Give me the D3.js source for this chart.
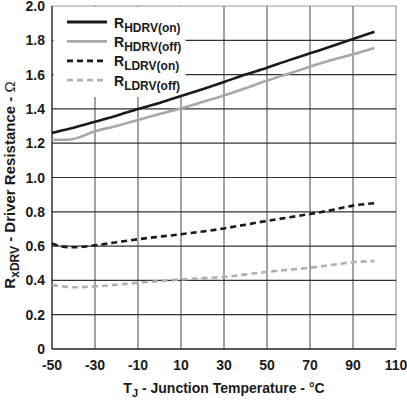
<!DOCTYPE html>
<html>
<head>
<meta charset="utf-8">
<script src="https://cdn.jsdelivr.net/npm/d3@7"></script>
<style>
  body { margin: 0; background: #fff; }
  text { font-family: "Liberation Sans", Arial, sans-serif; font-weight: bold; fill: #1a1a1a; }
</style>
</head>
<body>
<div id="chart"></div>
<script>
// Driver resistance vs junction temperature ////////////////////////////////

var temps = [-50, -45, -40, -30, -20, -10, 0, 10, 20, 30, 40, 50, 60, 70, 80, 90, 100];

var hdrvOn  = [1.26, 1.275, 1.29, 1.325, 1.36, 1.40, 1.435, 1.475, 1.515, 1.557, 1.60, 1.64, 1.683, 1.724, 1.765, 1.807, 1.85];
var hdrvOff = [1.22, 1.22, 1.225, 1.27, 1.30, 1.335, 1.37, 1.403, 1.44, 1.478, 1.52, 1.565, 1.605, 1.646, 1.685, 1.718, 1.755];
var ldrvOn  = [0.615, 0.597, 0.593, 0.605, 0.622, 0.64, 0.655, 0.669, 0.685, 0.703, 0.725, 0.747, 0.767, 0.787, 0.81, 0.836, 0.85];
var ldrvOff = [0.373, 0.365, 0.36, 0.365, 0.375, 0.386, 0.396, 0.406, 0.413, 0.42, 0.435, 0.45, 0.462, 0.474, 0.49, 0.506, 0.513];

var xTicks = [-50, -30, -10, 10, 30, 50, 70, 90, 110];
var yTicks = [0, 0.2, 0.4, 0.6, 0.8, 1.0, 1.2, 1.4, 1.6, 1.8, 2.0];

var series = [
  { sub: 'HDRV(on)',  values: hdrvOn,  color: '#1a1a1a', dash: null },
  { sub: 'HDRV(off)', values: hdrvOff, color: '#a8a8a8', dash: null },
  { sub: 'LDRV(on)',  values: ldrvOn,  color: '#1a1a1a', dash: '6,4' },
  { sub: 'LDRV(off)', values: ldrvOff, color: '#b0b0b0', dash: '6,4' }
];

///////////////////////////////////////////////////////////////////////////////

var width = 407, height = 400;
var plotLeft = 52, plotRight = 396, plotTop = 6, plotBottom = 349;

var svg = d3.select('#chart').append('svg')
  .attr('width', width)
  .attr('height', height);

var x = d3.scaleLinear().domain([-50, 110]).range([plotLeft, plotRight]);
var y = d3.scaleLinear().domain([0, 2]).range([plotBottom, plotTop]);

// grid
svg.append('g').selectAll('line')
  .data(xTicks.slice(1))
  .enter().append('line')
  .attr('x1', function(d){ return x(d); })
  .attr('x2', function(d){ return x(d); })
  .attr('y1', plotTop)
  .attr('y2', plotBottom)
  .style('stroke', function(d){ return d === 110 ? '#999' : '#666'; })
  .style('stroke-width', 1.2);

svg.append('g').selectAll('line')
  .data(yTicks.slice(1))
  .enter().append('line')
  .attr('x1', plotLeft)
  .attr('x2', plotRight)
  .attr('y1', function(d){ return y(d); })
  .attr('y2', function(d){ return y(d); })
  .style('stroke', function(d){ return d === 2 ? '#999' : '#333'; })
  .style('stroke-width', 1.2);

// axes lines
svg.append('line')
  .attr('x1', plotLeft).attr('x2', plotLeft).attr('y1', plotTop).attr('y2', plotBottom)
  .style('stroke', '#222').style('stroke-width', 1.4);
svg.append('line')
  .attr('x1', plotLeft).attr('x2', plotRight).attr('y1', plotBottom).attr('y2', plotBottom)
  .style('stroke', '#222').style('stroke-width', 1.4);

// tick labels
svg.append('g').selectAll('text')
  .data(xTicks)
  .enter().append('text')
  .attr('x', function(d){ return x(d); })
  .attr('y', plotBottom + 21)
  .attr('text-anchor', 'middle')
  .style('font-size', '14px')
  .text(function(d){ return d; });

svg.append('g').selectAll('text')
  .data(yTicks)
  .enter().append('text')
  .attr('x', plotLeft - 7)
  .attr('y', function(d){ return y(d) + 5; })
  .attr('text-anchor', 'end')
  .style('font-size', '14px')
  .text(function(d){ return d === 0 ? '0' : d.toFixed(1); });

// legend box covers the grid
svg.append('rect')
  .attr('x', plotLeft + 1.5)
  .attr('y', plotTop + 1)
  .attr('width', 132)
  .attr('height', 90)
  .style('fill', '#fff');

// curves
var line = d3.line()
  .x(function(d, i){ return x(temps[i]); })
  .y(function(d){ return y(d); })
  .curve(d3.curveMonotoneX);

svg.append('g').selectAll('path')
  .data(series)
  .enter().append('path')
  .attr('d', function(d){ return line(d.values); })
  .style('fill', 'none')
  .style('stroke', function(d){ return d.color; })
  .style('stroke-width', 2.6)
  .style('stroke-dasharray', function(d){ return d.dash; });

// legend
var legend = svg.append('g').selectAll('g')
  .data(series)
  .enter().append('g')
  .attr('transform', function(d, i){ return 'translate(0,' + (22 + i * 19.4) + ')'; });

legend.append('line')
  .attr('x1', 67).attr('x2', 107)
  .style('stroke', function(d){ return d.color; })
  .style('stroke-width', 2.8)
  .style('stroke-dasharray', function(d){ return d.dash; });

var lt = legend.append('text')
  .attr('x', 114)
  .attr('y', 5.5)
  .style('font-size', '14px');
lt.append('tspan').text('R');
lt.append('tspan')
  .attr('dy', 4)
  .style('font-size', '12px')
  .text(function(d){ return d.sub; });

// axis titles
var xt = svg.append('text')
  .attr('x', 224)
  .attr('y', 393)
  .attr('text-anchor', 'middle')
  .style('font-size', '14px');
xt.append('tspan').text('T');
xt.append('tspan').attr('dy', 4).style('font-size', '11px').text('J');
xt.append('tspan').attr('dy', -4).text(' - Junction Temperature - °C');

var yt = svg.append('text')
  .attr('transform', 'translate(15,185) rotate(-90)')
  .attr('text-anchor', 'middle')
  .style('font-size', '15px');
yt.append('tspan').text('R');
yt.append('tspan').attr('dy', 4).style('font-size', '12px').text('xDRV');
yt.append('tspan').attr('dy', -4).text(' - Driver Resistance - ');
yt.append('tspan').style('font-weight', 'normal').text('Ω');
</script>
</body>
</html>
